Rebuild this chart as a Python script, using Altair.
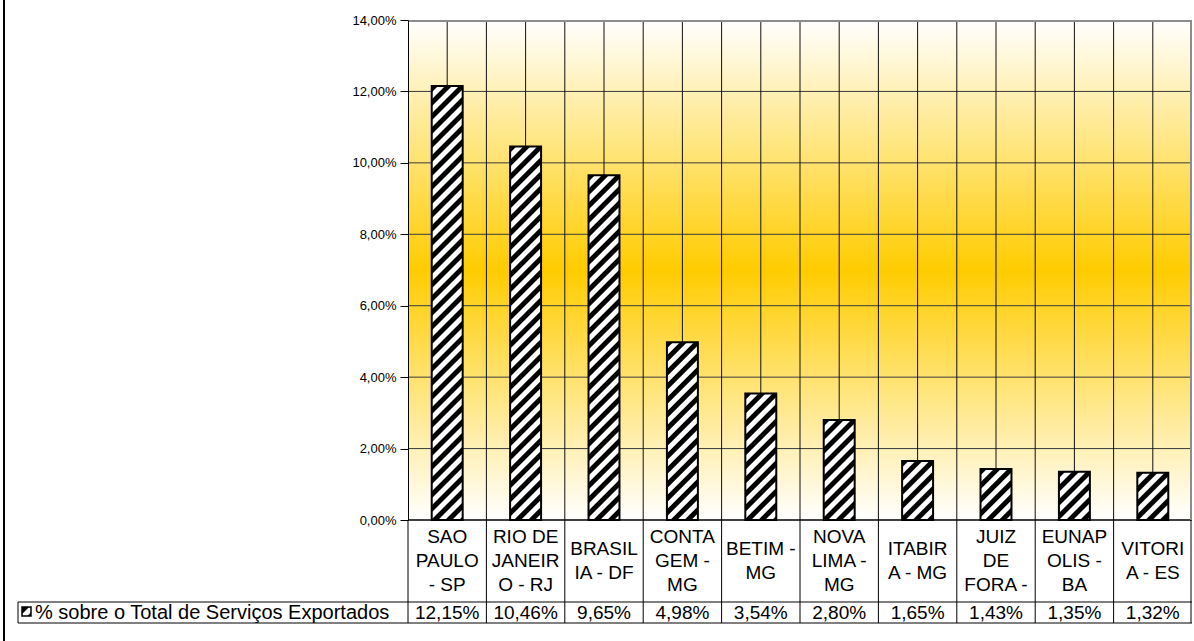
import altair as alt
import pandas as pd

# ---------------- data ----------------
cities = ["SAO PAULO - SP", "RIO DE JANEIRO - RJ", "BRASILIA - DF", "CONTAGEM - MG",
          "BETIM - MG", "NOVA LIMA - MG", "ITABIRA - MG", "JUIZ DE FORA - MG",
          "EUNAPOLIS - BA", "VITORIA - ES"]
cell_labels = ["SAO\nPAULO\n- SP", "RIO DE\nJANEIR\nO - RJ", "BRASIL\nIA - DF", "CONTA\nGEM -\nMG",
               "BETIM -\nMG", "NOVA\nLIMA -\nMG", "ITABIR\nA - MG", "JUIZ\nDE\nFORA -",
               "EUNAP\nOLIS -\nBA", "VITORI\nA - ES"]
values = [12.15, 10.46, 9.65, 4.98, 3.54, 2.80, 1.65, 1.43, 1.35, 1.32]
y_ticks = [0, 2, 4, 6, 8, 10, 12, 14]
series_name = "% sobre o Total de Serviços Exportados"

# ---------------- layout ----------------
W, H = 784, 500
YMAX = 14
FONT = "Liberation Sans"
ROW_SPLIT = 582
TABLE_BOTTOM = 603
LABEL_CENTER = 541
LINE_H = 24
PAD_IN, PAD_OUT = 0.605, 0.3025
BAR_W = (W / len(cities)) * (1 - PAD_IN)

df = pd.DataFrame({
    "city": cities,
    "label": cell_labels,
    "nlines": [s.count("\n") + 1 for s in cell_labels],
    "value": values,
    "vlabel": [f"{v:.2f}".replace(".", ",") + "%" for v in values],
})

BG_GRAD = {"gradient": "linear", "x1": 0, "y1": 0, "x2": 0, "y2": 1,
           "stops": [{"offset": 0, "color": "#FFFFFF"},
                     {"offset": 0.5, "color": "#FFCC00"},
                     {"offset": 1, "color": "#FFFFFF"}]}


def hatch(h, w=BAR_W, period=14.0):
    L = w + h
    c = L * w / (w * w + h * h)
    stops = []
    s = 0.0
    while s < L:
        for frac, col in [(0.0, "#000000"), (0.40, "#000000"), (0.50, "#FFFFFF"), (0.90, "#FFFFFF")]:
            off = (s + frac * period) / L
            if off <= 1:
                stops.append({"offset": round(off, 5), "color": col})
        s += period
    return {"gradient": "linear", "x1": 0, "y1": 0, "x2": round(c, 5), "y2": round(c * h / w, 5),
            "stops": stops}


def xband():
    return alt.X("city:N", scale=alt.Scale(domain=cities, paddingInner=PAD_IN, paddingOuter=PAD_OUT),
                 axis=None)


yscale = alt.Scale(domain=[0, YMAX], nice=False, zero=True)
yaxis = alt.Axis(values=y_ticks, grid=False, title=None,
                 labelExpr="replace(format(datum.value, '.2f'), '.', ',') + '%'",
                 domainColor="#000000", domainWidth=1, tickColor="#000000", tickSize=8,
                 tickWidth=1, labelFont=FONT, labelFontSize=13, labelColor="#000000",
                 labelPadding=4, zindex=1)
one = pd.DataFrame({"a": [0]})

layers = []

# background gradient
layers.append(alt.Chart(one).mark_rect(fill=BG_GRAD).encode(
    x=alt.value(0), x2=alt.value(W), y=alt.value(0), y2=alt.value(H)))

# horizontal gridlines (also carries the y axis)
layers.append(alt.Chart(pd.DataFrame({"t": y_ticks[1:-1]})).mark_rule(
    color="#3a3a3a", strokeWidth=1).encode(
    y=alt.Y("t:Q", scale=yscale, axis=yaxis), x=alt.value(0), x2=alt.value(W)))

# vertical gridlines (half-category steps)
n2 = 2 * len(cities)
layers.append(alt.Chart(pd.DataFrame({"g": list(range(1, n2))})).mark_rule(
    color="#111111", strokeWidth=1).encode(
    x=alt.X("g:Q", scale=alt.Scale(domain=[0, n2]), axis=None),
    y=alt.value(0), y2=alt.value(H)))

# table vertical lines
layers.append(alt.Chart(pd.DataFrame({"g": list(range(0, n2, 2))})).mark_rule(
    color="#000000", strokeWidth=1).encode(
    x=alt.X("g:Q", scale=alt.Scale(domain=[0, n2]), axis=None),
    y=alt.value(H), y2=alt.value(TABLE_BOTTOM)))

# bars with hatch pattern
for c, v in zip(cities, values):
    h = v / YMAX * H
    layers.append(alt.Chart(df).transform_filter(alt.datum.city == c).mark_bar(
        fill=hatch(h), stroke="#000000", strokeWidth=2).encode(
        x=xband(),
        y=alt.Y("value:Q", scale=yscale, axis=yaxis)))

# borders
layers.append(alt.Chart(one).mark_rule(color="#000000", strokeWidth=1.5).encode(
    x=alt.value(0), x2=alt.value(W), y=alt.value(H)))
layers.append(alt.Chart(one).mark_rule(color="#8c8c8c", strokeWidth=2).encode(
    x=alt.value(0), x2=alt.value(W), y=alt.value(1)))
layers.append(alt.Chart(one).mark_rule(color="#8c8c8c", strokeWidth=2).encode(
    x=alt.value(W - 1), y=alt.value(0), y2=alt.value(H)))
layers.append(alt.Chart(one).mark_rule(color="#000000", strokeWidth=1).encode(
    x=alt.value(W - 1), y=alt.value(H), y2=alt.value(TABLE_BOTTOM)))
for yy in (ROW_SPLIT, TABLE_BOTTOM):
    layers.append(alt.Chart(one).mark_rule(color="#000000", strokeWidth=1).encode(
        x=alt.value(-390), x2=alt.value(W), y=alt.value(yy)))
layers.append(alt.Chart(one).mark_rule(color="#000000", strokeWidth=1).encode(
    x=alt.value(-390), y=alt.value(ROW_SPLIT), y2=alt.value(TABLE_BOTTOM)))
layers.append(alt.Chart(one).mark_rule(color="#000000", strokeWidth=2).encode(
    x=alt.value(-404), y=alt.value(-20), y2=alt.value(621)))

# category labels (vertically centred in the row, per number of lines)
for n in sorted(set(df["nlines"])):
    layers.append(alt.Chart(df).transform_filter(alt.datum.nlines == n).mark_text(
        font=FONT, fontSize=19, lineBreak="\n", lineHeight=LINE_H, baseline="middle",
        align="center", color="#000000").encode(
        x=xband(), y=alt.value(LABEL_CENTER - (n - 1) * LINE_H / 2), text="label:N"))

# values row
layers.append(alt.Chart(df).mark_text(
    font=FONT, fontSize=19, baseline="middle", align="center", color="#000000").encode(
    x=xband(), y=alt.value(592.5), text="vlabel:N"))

# legend key + name
KEY_GRAD = {"gradient": "linear", "x1": 0, "y1": 0, "x2": 1, "y2": 1,
            "stops": [{"offset": 0, "color": "#000000"}, {"offset": 0.35, "color": "#000000"},
                      {"offset": 0.45, "color": "#FFFFFF"}, {"offset": 0.75, "color": "#FFFFFF"},
                      {"offset": 0.85, "color": "#000000"}, {"offset": 1, "color": "#000000"}]}
layers.append(alt.Chart(one).mark_rect(fill=KEY_GRAD, stroke="#000000", strokeWidth=1.5).encode(
    x=alt.value(-386), x2=alt.value(-377), y=alt.value(587), y2=alt.value(596)))
layers.append(alt.Chart(pd.DataFrame({"t": [series_name]})).mark_text(
    font=FONT, fontSize=20, baseline="middle", align="left", color="#000000").encode(
    x=alt.value(-373), y=alt.value(592.5), text="t:N"))

chart = alt.layer(*layers).resolve_scale(x="independent").properties(
    width=W, height=H,
    padding={"left": 408, "top": 20, "right": 2, "bottom": 121},
    autosize=alt.AutoSizeParams(type="none"),
    background="#FFFFFF",
).configure_view(stroke=None)

chart.save("out.html", embed_options={"renderer": "svg", "actions": False})
